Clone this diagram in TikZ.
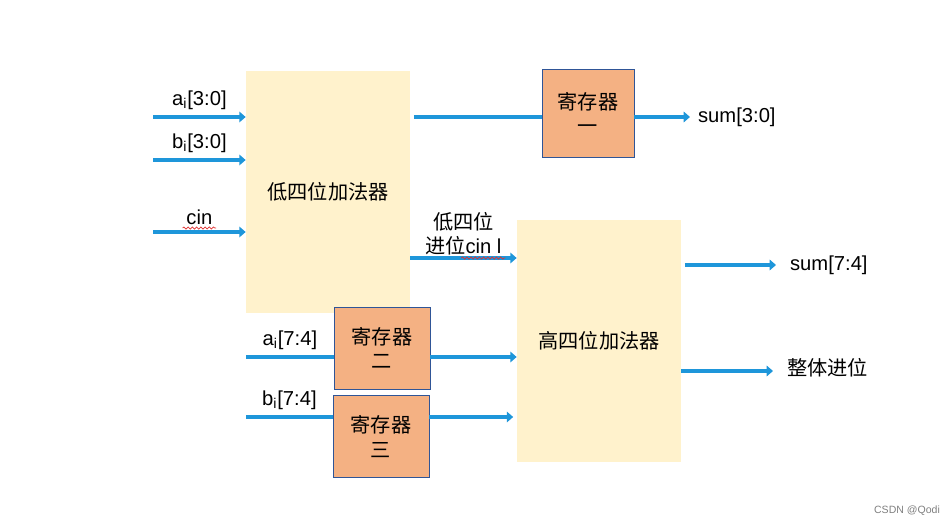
\documentclass[tikz,border=0pt]{standalone}
\usepackage{fontspec}
\setmainfont{Liberation Sans}
\newfontfamily\cjk{Noto Sans CJK SC}
\usetikzlibrary{arrows.meta, positioning, decorations.pathmorphing}
\definecolor{adFill}{HTML}{FFF2CC}
\definecolor{regFill}{HTML}{F4B183}
\definecolor{regLine}{HTML}{2F5597}
\definecolor{sigBlue}{HTML}{1E96DA}
\definecolor{markRed}{HTML}{E03030}

\begin{document}
\begin{tikzpicture}[
  x=0.02cm, y=-0.02cm,
  font=\fontsize{11.5}{14}\selectfont,
  adder/.style={fill=adFill, align=center, minimum width=3.28cm, minimum height=4.84cm,
                font=\cjk\fontsize{11.5}{14}\selectfont},
  reg/.style={draw=regLine, fill=regFill, align=center, minimum width=1.92cm, minimum height=1.64cm,
              font=\cjk\fontsize{11.5}{14}\selectfont},
  sig/.style={draw=sigBlue, line width=2.3pt, -{Triangle[length=3.6pt, width=6pt]}},
  wire/.style={draw=sigBlue, line width=2.3pt},
  lbl/.style={inner sep=1pt},
  squig/.style={draw=markRed, line width=0.4pt, decorate,
                decoration={snake, amplitude=0.6pt, segment length=2.4pt}},
]
\useasboundingbox[fill=white] (0,0) rectangle (950,526);

% adders and registers
\node[adder] (low)  at (328,192) {低四位加法器};
\node[adder] (high) at (599,341) {高四位加法器};
\node[reg, minimum width=1.84cm, minimum height=1.76cm] (reg1) at (588,113) {寄存器\\一};
\node[reg] (reg2) at (382,348)   {寄存器\\二};
\node[reg] (reg3) at (381,436.5) {寄存器\\三};

% low adder inputs
\coordinate (ai0) at (153,117);
\coordinate (bi0) at (153,160);
\coordinate (ci)  at (153,232);
\draw[sig] (ai0) -- (ai0 -| low.west) node[lbl, midway, above=0.07cm] (lai0) {a\textsubscript{i}[3:0]};
\draw[sig] (bi0) -- (bi0 -| low.west) node[lbl, midway, above=0.07cm] (lbi0) {b\textsubscript{i}[3:0]};
\draw[sig] (ci)  -- (ci -| low.west)  node[lbl, midway, above=0.07cm] (lci)  {cin};
\draw[squig] ([yshift=-2pt]lci.base west) -- ([yshift=-2pt]lci.base east);

% low sum through register one
\coordinate (s30) at (690,117);
\draw[wire] ([xshift=2pt]low.east |- s30) -- (reg1.west |- s30);
\draw[sig] (reg1.east |- s30) -- (s30);
\node[lbl, right=0.12cm of s30] (ls30) {sum[3:0]};

% carry from low to high
\coordinate (cy) at (410,258);
\draw[sig] (cy) -- (cy -| high.west) node[lbl, midway, above=-0.02cm, align=center] (lcy)
  {{\cjk 低四位}\\{\cjk 进位}cin l};
\draw[squig] ([shift={(-0.88cm,-2.5pt)}]lcy.base east) -- ([yshift=-2.5pt]lcy.base east);

% high inputs through registers two and three
\coordinate (ai4) at (246,357);
\coordinate (bi4) at (246,417);
\draw[wire] (ai4) -- (ai4 -| reg2.west) node[lbl, midway, above=0.08cm] (lai4) {a\textsubscript{i}[7:4]};
\draw[wire] (bi4) -- (bi4 -| reg3.west) node[lbl, midway, above=0.08cm] (lbi4) {b\textsubscript{i}[7:4]};
\draw[sig] (reg2.east |- ai4) -- (high.west |- ai4);
\draw[sig] (reg3.east |- bi4) -- ([xshift=-2pt]high.west |- bi4);

% high adder outputs
\coordinate (s74) at (776,265);
\coordinate (co)  at (773,371);
\draw[sig] ([xshift=2pt]high.east |- s74) -- (s74);
\draw[sig] (high.east |- co) -- (co);
\node[lbl, right=0.24cm of s74] (ls74) {sum[7:4]};
\node[lbl, right=0.24cm of co, yshift=0.06cm, font=\cjk\fontsize{11.5}{14}\selectfont] (lco) {整体进位};

\node[text=gray, font=\fontsize{6}{7}\selectfont] (mark) at (907,511) {CSDN @Qodi};
\end{tikzpicture}
\end{document}
